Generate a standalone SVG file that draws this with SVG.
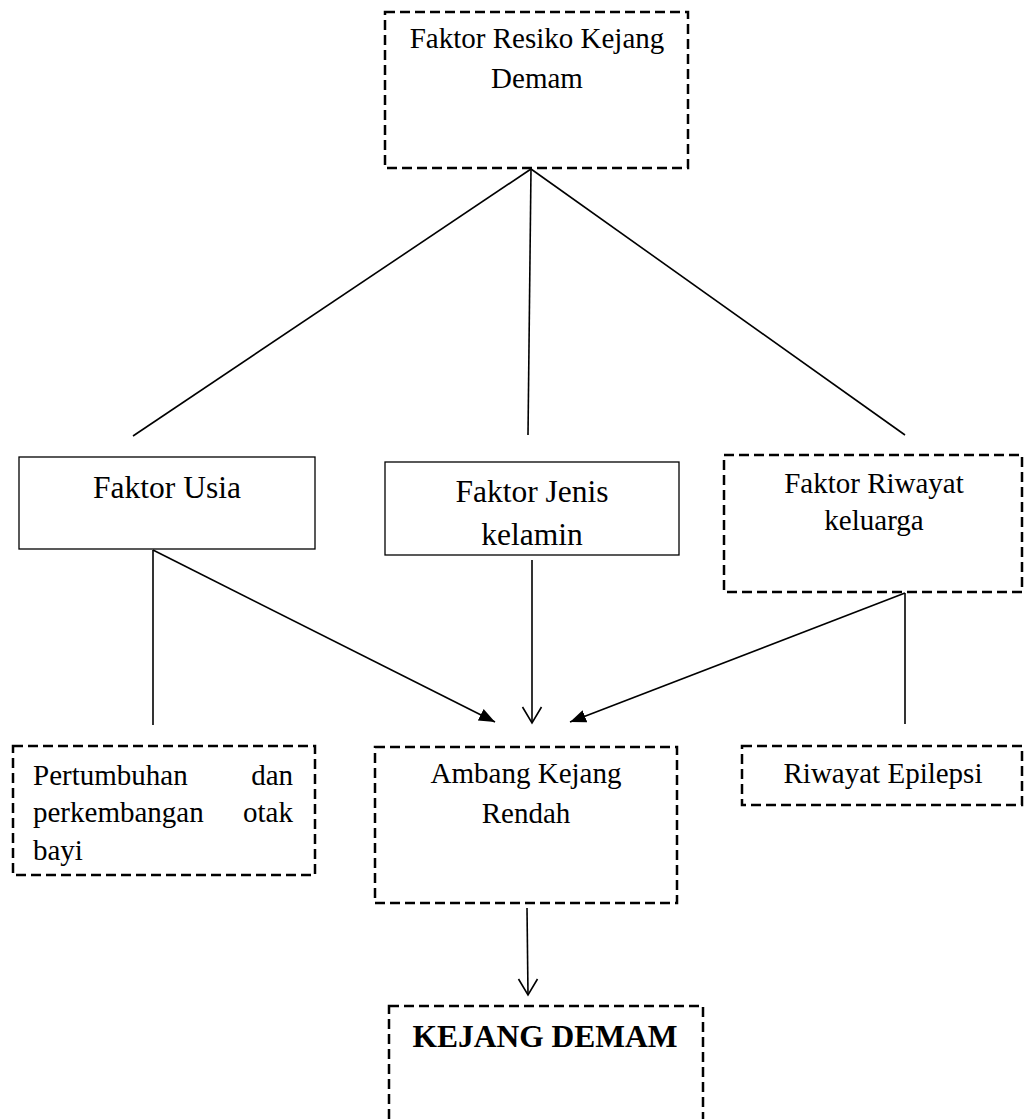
<svg xmlns="http://www.w3.org/2000/svg" width="1024" height="1119" viewBox="0 0 1024 1119">
  <style>
    .dash { fill: #fff; stroke: #000; stroke-width: 2.5; stroke-dasharray: 10 5; }
    .solid { fill: #fff; stroke: #000; stroke-width: 1.3; }
    .t { font-family: "Liberation Serif", "Times New Roman", serif; font-size: 29px; fill: #000; }
    .tl { font-family: "Liberation Serif", "Times New Roman", serif; font-size: 31.5px; fill: #000; }
    .tb { font-family: "Liberation Serif", "Times New Roman", serif; font-size: 31.5px; font-weight: bold; fill: #000; }
    .c { text-anchor: middle; }
    .e { text-anchor: end; }
    .ln { stroke: #000; stroke-width: 1.6; fill: none; }
  </style>
  <defs>
    <marker id="fill" markerUnits="userSpaceOnUse" markerWidth="18" markerHeight="14" refX="16" refY="6.5" orient="auto">
      <path d="M0,0 L16,6.5 L0,13 z" fill="#000"/>
    </marker>
    <marker id="open" markerUnits="userSpaceOnUse" markerWidth="22" markerHeight="24" refX="11" refY="20" orient="0">
      <path d="M1.5,4 L11,20 L20.5,4" fill="none" stroke="#000" stroke-width="1.6"/>
    </marker>
  </defs>

  <g id="connectors">
    <line class="ln" x1="531" y1="169" x2="133" y2="436"/>
    <line class="ln" x1="531" y1="169" x2="528" y2="435"/>
    <line class="ln" x1="531" y1="169" x2="905" y2="435"/>
    <line class="ln" x1="153" y1="550" x2="153" y2="725"/>
    <line class="ln" x1="153" y1="550" x2="495" y2="722" marker-end="url(#fill)"/>
    <line class="ln" x1="532" y1="560" x2="532" y2="723" marker-end="url(#open)"/>
    <line class="ln" x1="905" y1="593" x2="905" y2="724"/>
    <line class="ln" x1="905" y1="593" x2="570" y2="722" marker-end="url(#fill)"/>
    <line class="ln" x1="527" y1="908" x2="528" y2="995" marker-end="url(#open)"/>
  </g>

  <g id="node-faktor-resiko">
    <rect class="dash" x="385" y="12" width="303" height="156"/>
    <text class="t c" x="537" y="48">Faktor Resiko Kejang</text>
    <text class="t c" x="537" y="88">Demam</text>
  </g>

  <g id="node-faktor-usia">
    <rect class="solid" x="19" y="457" width="296" height="92"/>
    <text class="tl c" x="167" y="498">Faktor Usia</text>
  </g>

  <g id="node-faktor-jenis">
    <rect class="solid" x="385" y="462" width="294" height="93"/>
    <text class="tl c" x="532" y="502">Faktor Jenis</text>
    <text class="tl c" x="532" y="545">kelamin</text>
  </g>

  <g id="node-faktor-riwayat">
    <rect class="dash" x="724" y="455" width="298" height="137"/>
    <text class="t c" x="874" y="493">Faktor Riwayat</text>
    <text class="t c" x="874" y="530">keluarga</text>
  </g>

  <g id="node-pertumbuhan">
    <rect class="dash" x="13" y="746" width="302" height="129"/>
    <text class="t" x="33" y="785">Pertumbuhan</text>
    <text class="t e" x="293" y="785">dan</text>
    <text class="t" x="33" y="822">perkembangan</text>
    <text class="t e" x="293" y="822">otak</text>
    <text class="t" x="33" y="860">bayi</text>
  </g>

  <g id="node-ambang">
    <rect class="dash" x="375" y="747" width="302" height="156"/>
    <text class="t c" x="526" y="783">Ambang Kejang</text>
    <text class="t c" x="526" y="823">Rendah</text>
  </g>

  <g id="node-riwayat-epilepsi">
    <rect class="dash" x="742" y="746" width="280" height="59"/>
    <text class="t c" x="883" y="783">Riwayat Epilepsi</text>
  </g>

  <g id="node-kejang-demam">
    <rect class="dash" x="389" y="1006" width="314" height="140"/>
    <text class="tb c" x="545" y="1047">KEJANG DEMAM</text>
  </g>
</svg>
